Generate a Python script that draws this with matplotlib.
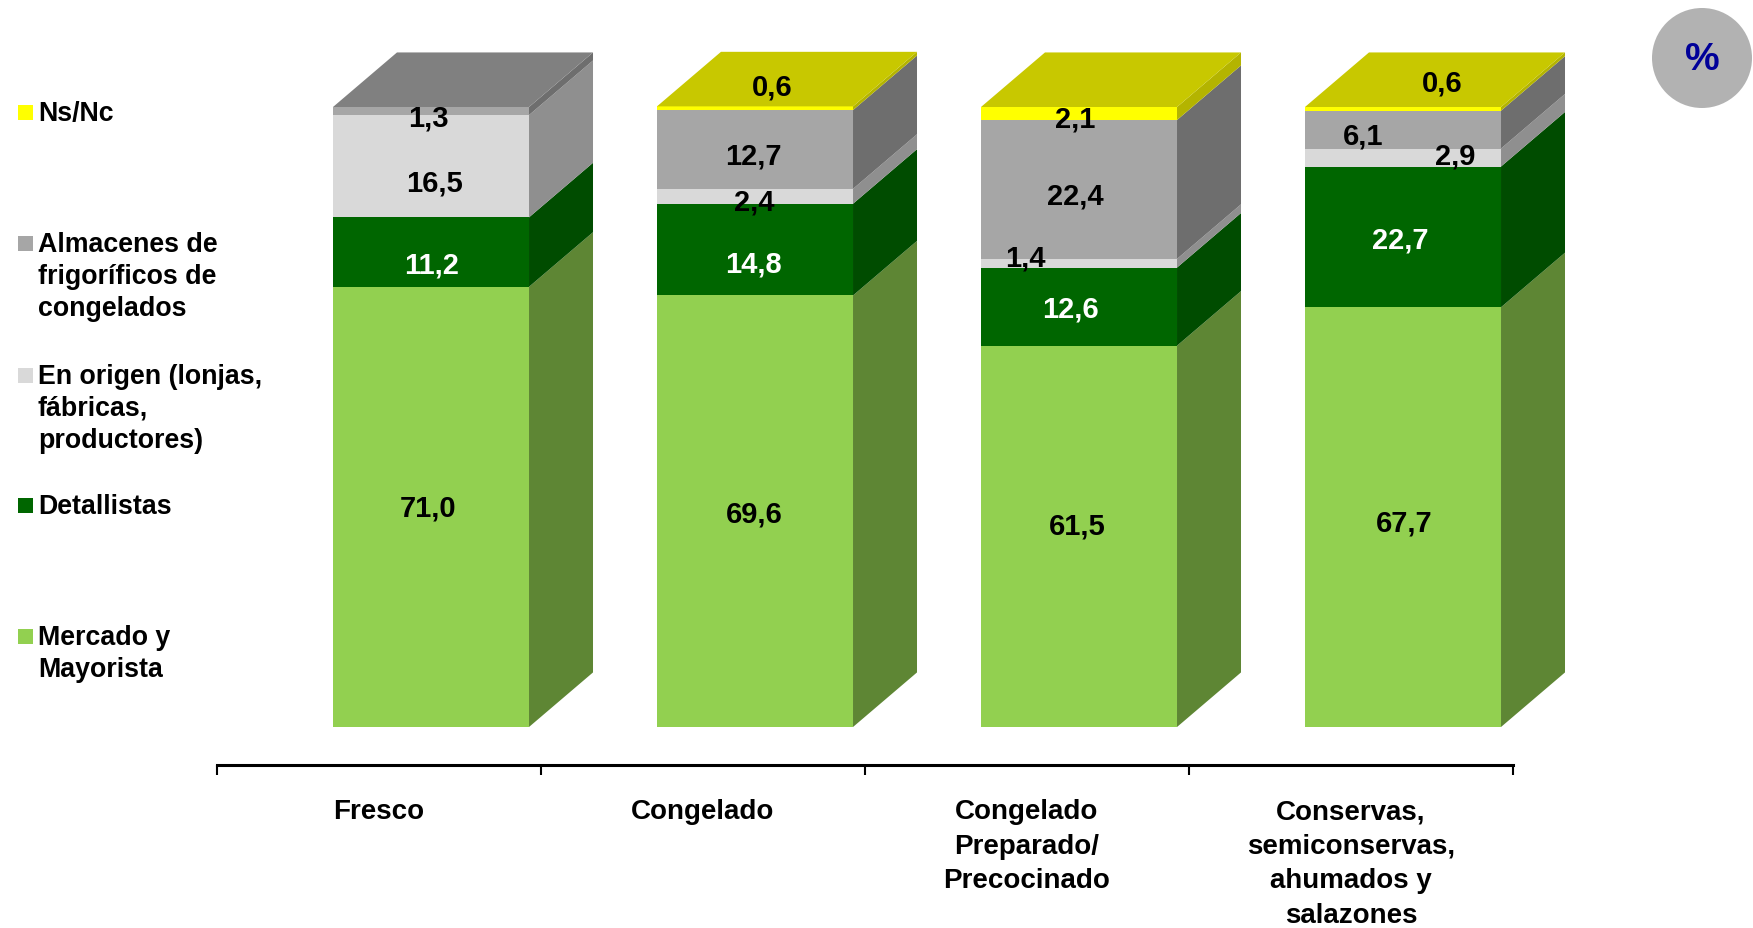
import matplotlib
matplotlib.use('Agg')
import matplotlib.pyplot as plt
from matplotlib.patches import Polygon, Circle
from matplotlib.transforms import IdentityTransform
import numpy as np

plt.rcParams['font.family'] = ['Liberation Sans', 'DejaVu Sans']
plt.rcParams['font.weight'] = 'bold'

# datos (%)
categorias = ['Fresco', 'Congelado', 'Congelado\nPreparado/\nPrecocinado',
              'Conservas,\nsemiconservas,\nahumados y\nsalazones']
series = ['Mercado y\nMayorista', 'Detallistas', 'En origen (lonjas,\nfábricas,\nproductores)',
          'Almacenes de\nfrigoríficos de\ncongelados', 'Ns/Nc']
mercado = [71.0, 69.6, 61.5, 67.7]
detallistas = [11.2, 14.8, 12.6, 22.7]
origen = [16.5, 2.4, 1.4, 2.9]
almacenes = [1.3, 12.7, 22.4, 6.1]
nsnc = [0.0, 0.6, 2.1, 0.6]

valores = np.array([mercado, detallistas, origen, almacenes, nsnc])

col_frente = ['#92D050', '#006600', '#D9D9D9', '#A6A6A6', '#FFFF00']
col_lado = ['#5E8634', '#004C00', '#8F8F8F', '#6E6E6E', '#B4B400']
col_techo = ['#92D050', '#006600', '#D9D9D9', '#808080', '#C8C800']
col_texto = ['black', 'white', 'black', 'black', 'black']

# desplazamientos de las etiquetas (pixeles)
desp = [
    [(-3, -1), (1, -12), (3, -16), (-3, -6), None],
    [(-1, -2), (-2, -14), (-1, -5), (-2, -6), (17, 22)],
    [(-2, 11), (-9, -2), (-54, 6), (-4, -6), (-4, -5)],
    [(1, -5), (-3, -3), (52, 2), (-40, -6), (39, 26)],
]

fig = plt.figure(figsize=(17.53, 9.29), dpi=100)
ax = fig.add_axes([217 / 1753, 163 / 929, 1296 / 1753, 720 / 929])
ax.set_xlim(-0.5, 3.5)
ax.set_ylim(-6.13, 110)

x0 = -0.142   # borde izquierdo del frente respecto al centro
ancho = 0.605
dx = 0.1975   # profundidad
dy = 8.8

n = len(categorias)
for i in range(n):
    xl = i + x0
    xr = xl + ancho
    base = 0.0
    tope = max(k for k in range(len(series)) if valores[k, i] > 0)
    for k in range(len(series)):
        v = valores[k, i]
        if v <= 0:
            continue
        ax.bar(xl, v, width=ancho, bottom=base, align='edge', color=col_frente[k],
               linewidth=0, zorder=2, clip_on=False)
        lado = [(xr, base), (xr + dx, base + dy), (xr + dx, base + v + dy), (xr, base + v)]
        ax.add_patch(Polygon(lado, closed=True, facecolor=col_lado[k], edgecolor='none',
                             zorder=2, clip_on=False))
        if k == tope:
            top = base + v
            techo = [(xl, top), (xr, top), (xr + dx, top + dy), (xl + dx, top + dy)]
            ax.add_patch(Polygon(techo, closed=True, facecolor=col_techo[k], edgecolor='none',
                                 zorder=2, clip_on=False))
        d = desp[i][k]
        if d is not None:
            ax.annotate(f'{v:.1f}'.replace('.', ','), xy=(xl + ancho / 2, base + v / 2),
                        xytext=d, textcoords='offset pixels', ha='center', va='center',
                        fontsize=21, fontweight='bold', color=col_texto[k], zorder=5)
        base += v

# eje de categorias
for s in ['top', 'right', 'left']:
    ax.spines[s].set_visible(False)
ax.spines['bottom'].set_linewidth(2.2)
ax.set_yticks([])
ax.set_xticks(np.arange(-0.5, n, 1.0))
ax.set_xticklabels([])
ax.tick_params(axis='x', which='major', direction='out', length=7, width=1.5)
ax.set_xticks(np.arange(n), minor=True)
ax.set_xticklabels(categorias, minor=True, fontsize=20, fontweight='bold', linespacing=1.42)
ax.tick_params(axis='x', which='minor', length=0, pad=24)

# leyenda
ley_y = [637, 506, 376, 244, 113]
for k in range(len(series)):
    yc = 1 - ley_y[k] / 929
    fig.patches.append(plt.Rectangle((18 / 1753, yc - 7.5 / 929), 15 / 1753, 15 / 929,
                                     transform=fig.transFigure, facecolor=col_frente[k],
                                     edgecolor='none'))
    fig.text(38 / 1753, yc + 12 / 929, series[k], ha='left', va='top', fontsize=19.3,
             fontweight='bold', linespacing=1.3)

# marca de porcentaje
fig.add_artist(Circle((1702, 929 - 59), 50, transform=IdentityTransform(),
                      facecolor='#B2B2B2', edgecolor='none'))
fig.text(1702 / 1753, 1 - 60 / 929, '%', ha='center', va='center', fontsize=28,
         fontweight='bold', color='#000099')

fig.savefig('out.png', dpi=100)
